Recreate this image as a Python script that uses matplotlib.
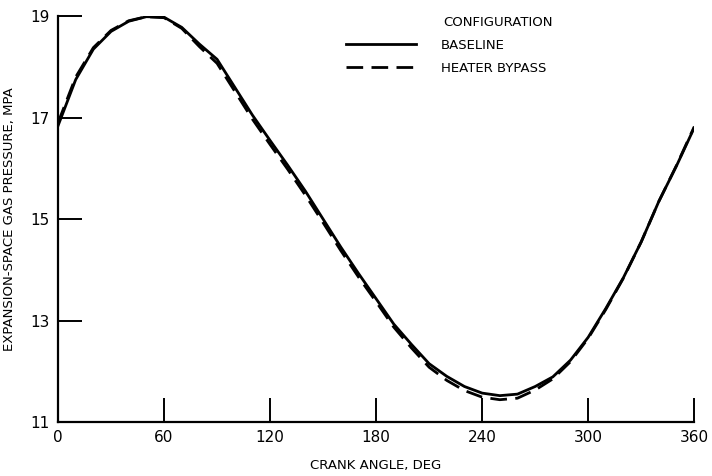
import matplotlib
matplotlib.use("Agg")
import matplotlib.pyplot as plt

# crank angle, deg
angle = [0, 10, 20, 30, 40, 50, 60, 70, 80, 90, 100, 110, 120, 130, 140, 150, 160, 170, 180,
         190, 200, 210, 220, 230, 240, 250, 260, 270, 280, 290, 300, 310, 320, 330, 340, 350, 360]

# expansion-space gas pressure, MPa
baseline = [16.84, 17.75, 18.35, 18.70, 18.90, 18.99, 18.98, 18.78, 18.45, 18.15, 17.60, 17.05,
            16.55, 16.06, 15.55, 15.00, 14.45, 13.93, 13.43, 12.93, 12.53, 12.15, 11.90, 11.70,
            11.57, 11.52, 11.55, 11.70, 11.89, 12.22, 12.67, 13.24, 13.85, 14.55, 15.35, 16.05, 16.80]
bypass = [16.90, 17.80, 18.38, 18.72, 18.91, 18.99, 18.97, 18.76, 18.40, 18.07, 17.52, 16.97,
          16.47, 15.98, 15.47, 14.93, 14.38, 13.86, 13.37, 12.87, 12.46, 12.08, 11.82, 11.62,
          11.49, 11.44, 11.47, 11.63, 11.85, 12.19, 12.65, 13.22, 13.84, 14.55, 15.35, 16.06, 16.82]

xticks = [0, 60, 120, 180, 240, 300, 360]
yticks = [11, 13, 15, 17, 19]

fig = plt.figure(figsize=(7.12, 4.76), dpi=100)
ax = fig.add_axes([0.0815, 0.1134, 0.8935, 0.8526])

ax.plot(angle, baseline, color="black", lw=2.0, label="BASELINE")
ax.plot(angle, bypass, color="black", lw=2.0, dashes=(6, 3), label="HEATER BYPASS")

ax.set_xlim(0, 360)
ax.set_ylim(11, 19)
ax.set_xticks(xticks)
ax.set_yticks(yticks)
ax.tick_params(direction="in", length=17, width=1.4, labelsize=11, pad=6)
for s in ["top", "right"]:
    ax.spines[s].set_visible(False)
for s in ["left", "bottom"]:
    ax.spines[s].set_linewidth(1.6)

ax.set_xlabel("CRANK ANGLE, DEG", fontsize=9.5, labelpad=10)
ax.set_ylabel("EXPANSION-SPACE GAS PRESSURE, MPA", fontsize=9.5, labelpad=10)

ax.text(0.605, 0.985, "CONFIGURATION", transform=ax.transAxes, fontsize=9.5, va="center")
ax.legend(loc="upper left", bbox_to_anchor=(0.453, 0.945), frameon=False, fontsize=9.5,
          handlelength=5.3, handletextpad=1.9, labelspacing=0.8, borderpad=0, borderaxespad=0)

plt.savefig("out.png", dpi=100)
